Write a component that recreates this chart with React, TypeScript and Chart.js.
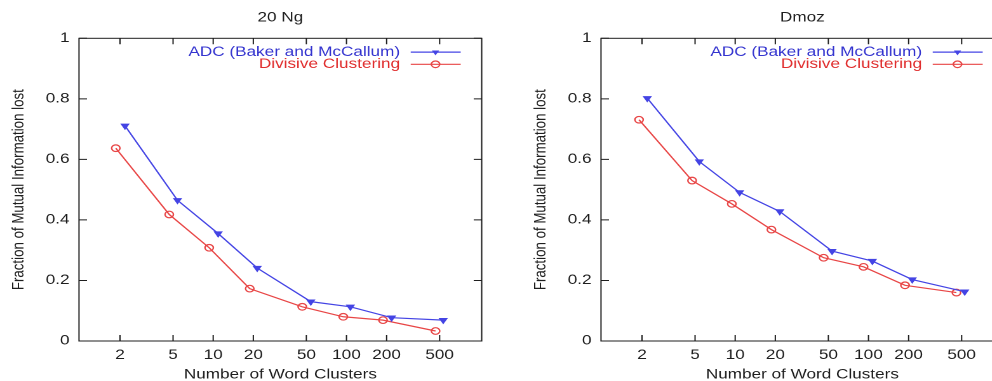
import React, { useEffect, useRef } from 'react';
import { Chart, registerables } from 'chart.js';

Chart.register(...registerables);

// ---- data ----
const tickValues = [2, 5, 10, 20, 50, 100, 200, 500];
const yTickValues = [0, 0.2, 0.4, 0.6, 0.8, 1];
const seriesNames = ['ADC (Baker and McCallum)', 'Divisive Clustering'];
const xAxisTitle = 'Number of Word Clusters';
const yAxisTitle = 'Fraction of Mutual Information lost';

// 20 Ng panel
const ngAdcX = [2.18, 5.4, 10.9, 21.4, 54, 107, 218, 532];
const ngAdcY = [0.711, 0.465, 0.355, 0.241, 0.13, 0.113, 0.077, 0.069];
const ngDivX = [1.86, 4.68, 9.33, 18.8, 46.6, 94.6, 188, 466];
const ngDivY = [0.637, 0.418, 0.308, 0.173, 0.113, 0.08, 0.069, 0.033];

// Dmoz panel
const dmozAdcX = [2.19, 5.38, 10.8, 21.6, 53.3, 107, 213, 527];
const dmozAdcY = [0.802, 0.593, 0.491, 0.428, 0.297, 0.264, 0.203, 0.163];
const dmozDivX = [1.9, 4.75, 9.44, 18.7, 46.1, 91.8, 188, 457];
const dmozDivY = [0.731, 0.53, 0.453, 0.368, 0.275, 0.245, 0.184, 0.16];

// ---- styling ----
const S = 1.27; // horizontal stretch of the original picture
const FONT = '"Liberation Sans", Arial, Helvetica, sans-serif';
const FS = 13.5;
const BLUE = '#4444e4';
const RED = '#e84646';
const BLUE_TEXT = '#3434cf';
const RED_TEXT = '#e02e2e';
const INK = '#1e1e1e';

const CANVAS_W = 391;
const CANVAS_H = 390;

const gnuplotFrame = {
  id: 'gnuplotFrame',
  afterDraw(chart: any, _args: any, opts: any) {
    const { ctx, chartArea, scales } = chart;
    const { left, right, top, bottom } = chartArea;
    const x = scales.x;
    const y = scales.y;
    ctx.save();
    ctx.strokeStyle = INK;
    ctx.lineWidth = 1;
    ctx.strokeRect(left, top, right - left, bottom - top);
    ctx.beginPath();
    tickValues.forEach((v) => {
      const px = x.getPixelForValue(v);
      ctx.moveTo(px, bottom);
      ctx.lineTo(px, bottom - 6);
      ctx.moveTo(px, top);
      ctx.lineTo(px, top + 6);
    });
    yTickValues.forEach((v) => {
      const py = y.getPixelForValue(v);
      ctx.moveTo(left, py);
      ctx.lineTo(left + 8 / S, py);
      ctx.moveTo(right, py);
      ctx.lineTo(right - 8 / S, py);
    });
    ctx.stroke();

    // title
    ctx.font = `${FS}px ${FONT}`;
    ctx.fillStyle = INK;
    ctx.textAlign = 'center';
    ctx.textBaseline = 'middle';
    ctx.fillText(opts.title, (left + right) / 2, 18);

    // legend (gnuplot style, inside top right)
    const textRight = right - 81.7 / S;
    const lineL = right - 71 / S;
    const lineR = right - 21 / S;
    const markX = right - 46.2 / S;
    chart.data.datasets.forEach((ds: any, i: number) => {
      const yy = top + 13.8 + i * 12.2;
      ctx.textAlign = 'right';
      ctx.fillStyle = ds.legendTextColor;
      ctx.fillText(ds.label, textRight, yy);
      ctx.strokeStyle = ds.borderColor;
      ctx.lineWidth = 1.2;
      ctx.beginPath();
      ctx.moveTo(lineL, yy);
      ctx.lineTo(lineR, yy);
      ctx.stroke();
      if (ds.pointStyle === 'triangle') {
        const r = ds.pointRadius;
        ctx.fillStyle = ds.borderColor;
        ctx.beginPath();
        ctx.moveTo(markX - 0.866 * r, yy - 0.5 * r);
        ctx.lineTo(markX + 0.866 * r, yy - 0.5 * r);
        ctx.lineTo(markX, yy + r);
        ctx.closePath();
        ctx.fill();
      } else {
        ctx.lineWidth = 1.2;
        ctx.beginPath();
        ctx.arc(markX, yy, ds.pointRadius, 0, Math.PI * 2);
        ctx.stroke();
      }
    });
    ctx.restore();
  },
};

type PanelProps = {
  title: string;
  adcX: number[];
  adcY: number[];
  divX: number[];
  divY: number[];
  left: number;
};

function Panel({ title, adcX, adcY, divX, divY, left }: PanelProps) {
  const ref = useRef<HTMLCanvasElement | null>(null);

  useEffect(() => {
    if (!ref.current) return;
    const font = { family: FONT, size: FS };
    const chart = new Chart(ref.current, {
      type: 'line',
      data: {
        datasets: [
          {
            label: seriesNames[0],
            data: adcX.map((x, i) => ({ x, y: adcY[i] })),
            borderColor: BLUE,
            backgroundColor: BLUE,
            borderWidth: 1.2,
            pointStyle: 'triangle',
            pointRotation: 180,
            pointRadius: 3.3,
            pointBackgroundColor: BLUE,
            pointBorderColor: BLUE,
            pointBorderWidth: 1,
            tension: 0,
            legendTextColor: BLUE_TEXT,
          } as any,
          {
            label: seriesNames[1],
            data: divX.map((x, i) => ({ x, y: divY[i] })),
            borderColor: RED,
            backgroundColor: RED,
            borderWidth: 1.2,
            pointStyle: 'circle',
            pointRadius: 3.3,
            pointBackgroundColor: 'rgba(255,255,255,0)',
            pointBorderColor: RED,
            pointBorderWidth: 1.2,
            tension: 0,
            legendTextColor: RED_TEXT,
          } as any,
        ],
      },
      options: {
        animation: false,
        responsive: false,
        devicePixelRatio: 2,
        events: [],
        layout: {
          padding: { top: 38.3, right: CANVAS_W - 481.7 / S, left: 0, bottom: 0 },
        },
        plugins: {
          legend: { display: false },
          tooltip: { enabled: false },
          title: { display: false },
          gnuplotFrame: { title },
        } as any,
        scales: {
          x: {
            type: 'logarithmic',
            min: 0.985,
            max: 1034,
            grid: { display: false, drawTicks: false },
            border: { display: false },
            afterBuildTicks: (s: any) => {
              s.ticks = tickValues.map((v) => ({ value: v }));
            },
            afterFit: (s: any) => {
              s.height = CANVAS_H - 341;
            },
            ticks: {
              autoSkip: false,
              maxRotation: 0,
              minRotation: 0,
              padding: 6,
              color: INK,
              font,
              callback: (v: any) => String(v),
            },
            title: {
              display: true,
              text: xAxisTitle,
              color: INK,
              font,
              padding: { top: 0, bottom: 7.2 },
            },
          },
          y: {
            type: 'linear',
            min: 0,
            max: 1,
            grid: { display: false, drawTicks: false },
            border: { display: false },
            afterBuildTicks: (s: any) => {
              s.ticks = yTickValues.map((v) => ({ value: v }));
            },
            afterFit: (s: any) => {
              s.width = 79 / S;
            },
            ticks: {
              padding: 7.5,
              color: INK,
              font,
              callback: (v: any) => String(v),
            },
            title: {
              display: true,
              text: yAxisTitle,
              color: INK,
              font: { family: FONT, size: 13.3 },
              padding: { top: 6.9, bottom: 0 },
            },
          },
        },
      } as any,
      plugins: [gnuplotFrame],
    });
    return () => chart.destroy();
  }, [title, adcX, adcY, divX, divY]);

  return (
    <div
      style={{
        position: 'absolute',
        left,
        top: 0,
        width: CANVAS_W,
        height: CANVAS_H,
        transform: `scaleX(${S})`,
        transformOrigin: '0 0',
      }}
    >
      <canvas
        ref={ref}
        width={CANVAS_W}
        height={CANVAS_H}
        style={{ width: CANVAS_W, height: CANVAS_H, display: 'block' }}
      />
    </div>
  );
}

export default function App() {
  return (
    <div
      style={{
        position: 'fixed',
        left: 0,
        top: 0,
        width: 992,
        height: 381,
        overflow: 'hidden',
        background: '#ffffff',
      }}
    >
      <Panel title="20 Ng" adcX={ngAdcX} adcY={ngAdcY} divX={ngDivX} divY={ngDivY} left={0} />
      <Panel title="Dmoz" adcX={dmozAdcX} adcY={dmozAdcY} divX={dmozDivX} divY={dmozDivY} left={522} />
    </div>
  );
}
